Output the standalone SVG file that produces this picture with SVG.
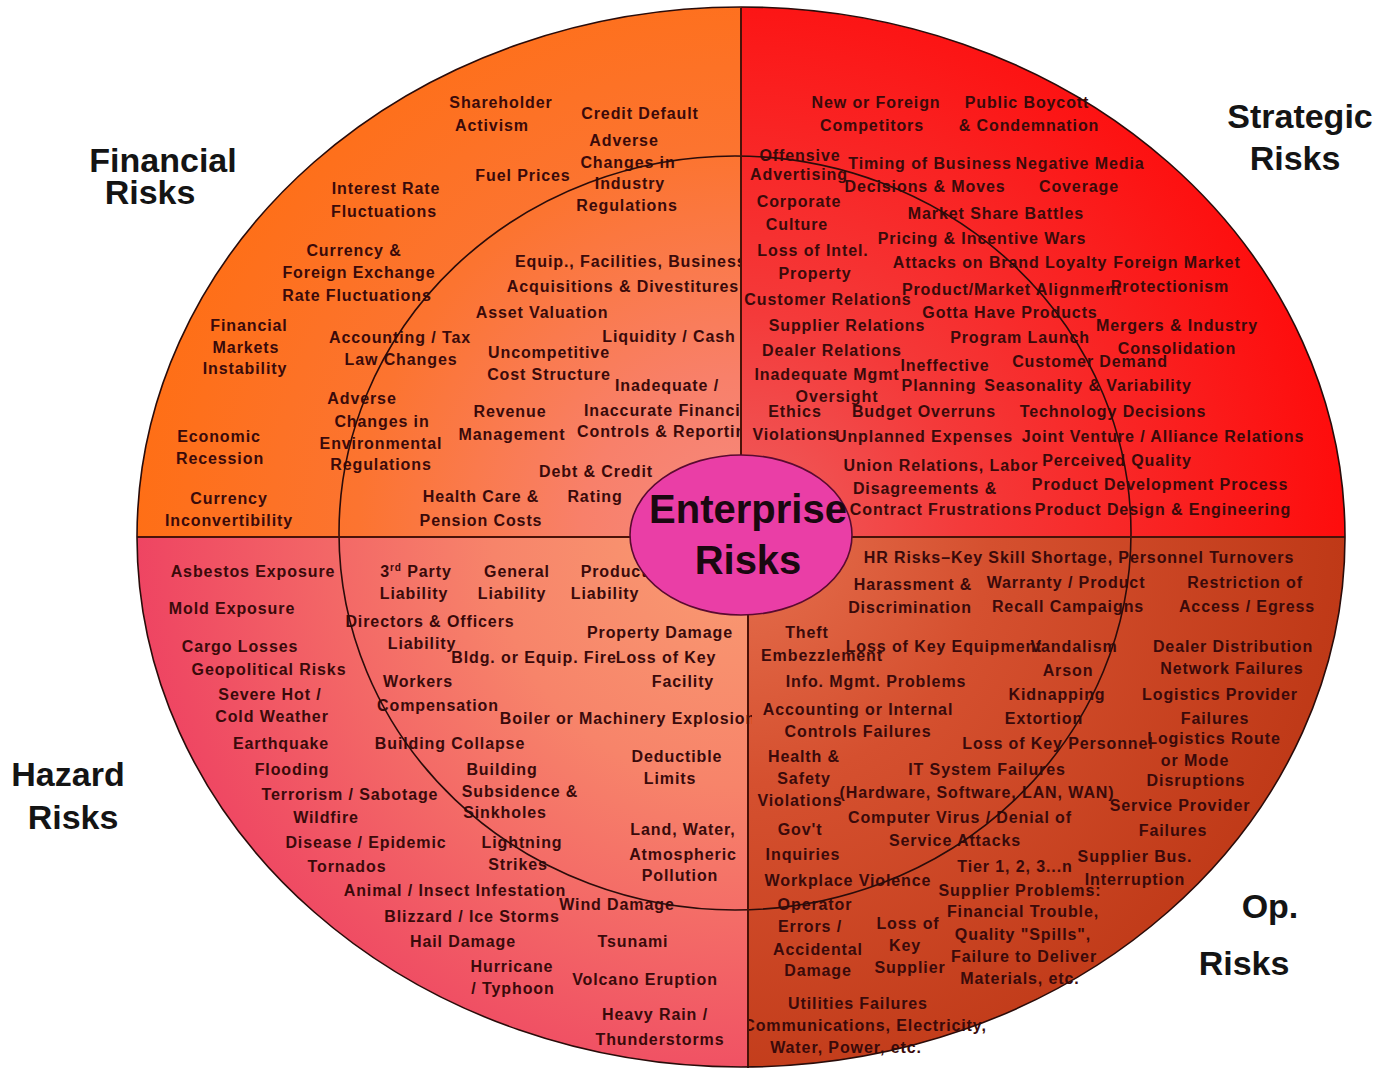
<svg xmlns="http://www.w3.org/2000/svg" width="1390" height="1068" viewBox="0 0 1390 1068">
<style>
.t{font-family:"Liberation Sans",Arial,sans-serif;font-size:16px;font-weight:bold;letter-spacing:0.9px;fill:#3a0a0a;text-anchor:middle}
.ts{text-anchor:start}
.cat{font-family:"Liberation Sans",Arial,sans-serif;font-size:34px;font-weight:bold;fill:#141414;text-anchor:middle}
.ring{fill:none;stroke:#2a0c0a;stroke-width:1.6}
.div{stroke:#4a1208;stroke-width:2}
</style>
<defs>
<clipPath id="cOuter"><ellipse cx="741" cy="537" rx="604" ry="530"/></clipPath>
<clipPath id="cTL"><rect x="0" y="0" width="741" height="537"/></clipPath>
<clipPath id="cTR"><rect x="741" y="0" width="649" height="537"/></clipPath>
<clipPath id="cBL"><rect x="0" y="537" width="752" height="531"/></clipPath>
<clipPath id="cBR"><rect x="747" y="537" width="643" height="531"/></clipPath>
<radialGradient id="gTL" gradientUnits="userSpaceOnUse" cx="741" cy="537" r="640">
<stop offset="0" stop-color="#F58A80"/><stop offset="0.25" stop-color="#F8806A"/><stop offset="0.6" stop-color="#FC7430"/><stop offset="1" stop-color="#FF6E12"/>
</radialGradient>
<radialGradient id="gTR" gradientUnits="userSpaceOnUse" cx="741" cy="537" r="640">
<stop offset="0" stop-color="#EE6060"/><stop offset="0.35" stop-color="#F43A3A"/><stop offset="1" stop-color="#FF0808"/>
</radialGradient>
<radialGradient id="gBL" gradientUnits="userSpaceOnUse" cx="741" cy="537" r="620">
<stop offset="0" stop-color="#F99C72"/><stop offset="0.4" stop-color="#F7846A"/><stop offset="1" stop-color="#EE4262"/>
</radialGradient>
<radialGradient id="gBR" gradientUnits="userSpaceOnUse" cx="741" cy="537" r="620">
<stop offset="0" stop-color="#E6704F"/><stop offset="0.4" stop-color="#D5502F"/><stop offset="1" stop-color="#BE3816"/>
</radialGradient>
</defs>
<rect width="1390" height="1068" fill="#ffffff"/>

<g id="quadrants" clip-path="url(#cOuter)">
<rect x="0" y="0" width="741" height="537" fill="url(#gTL)"/>
<rect x="741" y="0" width="649" height="537" fill="url(#gTR)"/>
<rect x="0" y="537" width="749" height="531" fill="url(#gBL)"/>
<rect x="749" y="537" width="641" height="531" fill="url(#gBR)"/>
</g>

<g id="financial-items" clip-path="url(#cTL)">
<text class="t"><tspan x="501" y="108">Shareholder</tspan><tspan x="492" y="131">Activism</tspan></text>
<text class="t" x="640" y="119">Credit Default</text>
<text class="t"><tspan x="624" y="146">Adverse</tspan><tspan x="628" y="168">Changes in</tspan><tspan x="630" y="189">Industry</tspan><tspan x="627" y="211">Regulations</tspan></text>
<text class="t" x="523" y="181">Fuel Prices</text>
<text class="t"><tspan x="386" y="194">Interest Rate</tspan><tspan x="384" y="217">Fluctuations</tspan></text>
<text class="t"><tspan x="354" y="256">Currency &amp;</tspan><tspan x="359" y="278">Foreign Exchange</tspan><tspan x="357" y="301">Rate Fluctuations</tspan></text>
<text class="t"><tspan x="249" y="331">Financial</tspan><tspan x="246" y="353">Markets</tspan><tspan x="245" y="374">Instability</tspan></text>
<text class="t"><tspan x="400" y="343">Accounting / Tax</tspan><tspan x="401" y="365">Law Changes</tspan></text>
<text class="t"><tspan x="362" y="404">Adverse</tspan><tspan x="382" y="427">Changes in</tspan><tspan x="381" y="449">Environmental</tspan><tspan x="381" y="470">Regulations</tspan></text>
<text class="t"><tspan x="219" y="442">Economic</tspan><tspan x="220" y="464">Recession</tspan></text>
<text class="t"><tspan x="229" y="504">Currency</tspan><tspan x="229" y="526">Inconvertibility</tspan></text>
<text class="t ts" x="515" y="267">Equip., Facilities, Business</text>
<text class="t" x="623" y="292">Acquisitions &amp; Divestitures</text>
<text class="t" x="542" y="318">Asset Valuation</text>
<text class="t" x="669" y="342">Liquidity / Cash</text>
<text class="t"><tspan x="549" y="358">Uncompetitive</tspan><tspan x="549" y="380">Cost Structure</tspan></text>
<text class="t" x="667" y="391">Inadequate /</text>
<text class="t ts"><tspan x="584" y="416">Inaccurate Financial</tspan><tspan x="577" y="437">Controls &amp; Reporting</tspan></text>
<text class="t"><tspan x="510" y="417">Revenue</tspan><tspan x="512" y="440">Management</tspan></text>
<text class="t"><tspan x="596" y="477">Debt &amp; Credit</tspan><tspan x="595" y="502">Rating</tspan></text>
<text class="t"><tspan x="481" y="502">Health Care &amp;</tspan><tspan x="481" y="526">Pension Costs</tspan></text>
</g>

<g id="strategic-items" clip-path="url(#cTR)">
<text class="t"><tspan x="876" y="108">New or Foreign</tspan><tspan x="872" y="131">Competitors</tspan></text>
<text class="t"><tspan x="1027" y="108">Public Boycott</tspan><tspan x="1029" y="131">&amp; Condemnation</tspan></text>
<text class="t"><tspan x="800" y="161">Offensive</tspan><tspan x="799" y="180">Advertising</tspan></text>
<text class="t"><tspan x="930" y="169">Timing of Business</tspan><tspan x="925" y="192">Decisions &amp; Moves</tspan></text>
<text class="t"><tspan x="1080" y="169">Negative Media</tspan><tspan x="1079" y="192">Coverage</tspan></text>
<text class="t"><tspan x="799" y="207">Corporate</tspan><tspan x="797" y="230">Culture</tspan></text>
<text class="t" x="996" y="219">Market Share Battles</text>
<text class="t" x="982" y="244">Pricing &amp; Incentive Wars</text>
<text class="t"><tspan x="813" y="256">Loss of Intel.</tspan><tspan x="815" y="279">Property</tspan></text>
<text class="t" x="1000" y="268">Attacks on Brand Loyalty</text>
<text class="t"><tspan x="1177" y="268">Foreign Market</tspan><tspan x="1170" y="292">Protectionism</tspan></text>
<text class="t" x="828" y="305">Customer Relations</text>
<text class="t" x="1012" y="295">Product/Market Alignment</text>
<text class="t" x="1010" y="318">Gotta Have Products</text>
<text class="t"><tspan x="1177" y="331">Mergers &amp; Industry</tspan><tspan x="1177" y="354">Consolidation</tspan></text>
<text class="t" x="847" y="331">Supplier Relations</text>
<text class="t" x="1020" y="343">Program Launch</text>
<text class="t" x="832" y="356">Dealer Relations</text>
<text class="t"><tspan x="945" y="371">Ineffective</tspan><tspan x="939" y="391">Planning</tspan></text>
<text class="t"><tspan x="1090" y="367">Customer Demand</tspan><tspan x="1088" y="391">Seasonality &amp; Variability</tspan></text>
<text class="t"><tspan x="827" y="380">Inadequate Mgmt</tspan><tspan x="837" y="402">Oversight</tspan></text>
<text class="t"><tspan x="795" y="417">Ethics</tspan><tspan x="795" y="440">Violations</tspan></text>
<text class="t"><tspan x="924" y="417">Budget Overruns</tspan><tspan x="924" y="442">Unplanned Expenses</tspan></text>
<text class="t" x="1113" y="417">Technology Decisions</text>
<text class="t" x="1163" y="442">Joint Venture / Alliance Relations</text>
<text class="t"><tspan x="941" y="471">Union Relations, Labor</tspan><tspan x="925" y="494">Disagreements &amp;</tspan><tspan x="941" y="515">Contract Frustrations</tspan></text>
<text class="t" x="1117" y="466">Perceived Quality</text>
<text class="t" x="1160" y="490">Product Development Process</text>
<text class="t" x="1163" y="515">Product Design &amp; Engineering</text>
</g>

<g id="hazard-items" clip-path="url(#cBL)">
<text class="t" x="253" y="577">Asbestos Exposure</text>
<text class="t" x="232" y="614">Mold Exposure</text>
<text class="t" x="240" y="652">Cargo Losses</text>
<text class="t" x="269" y="675">Geopolitical Risks</text>
<text class="t"><tspan x="270" y="700">Severe Hot /</tspan><tspan x="272" y="722">Cold Weather</tspan></text>
<text class="t" x="281" y="749">Earthquake</text>
<text class="t" x="292" y="775">Flooding</text>
<text class="t" x="350" y="800">Terrorism / Sabotage</text>
<text class="t" x="326" y="823">Wildfire</text>
<text class="t" x="366" y="848">Disease / Epidemic</text>
<text class="t" x="347" y="872">Tornados</text>
<text class="t" x="455" y="896">Animal / Insect Infestation</text>
<text class="t" x="472" y="922">Blizzard / Ice Storms</text>
<text class="t" x="463" y="947">Hail Damage</text>
<text class="t"><tspan x="512" y="972">Hurricane</tspan><tspan x="513" y="994">/ Typhoon</tspan></text>
<text class="t" x="416" y="577">3<tspan font-size="10" dy="-6">rd</tspan><tspan dy="6"> Party</tspan></text>
<text class="t" x="414" y="599">Liability</text>
<text class="t"><tspan x="517" y="577">General</tspan><tspan x="512" y="599">Liability</tspan></text>
<text class="t"><tspan x="614" y="577">Product</tspan><tspan x="605" y="599">Liability</tspan></text>
<text class="t"><tspan x="430" y="627">Directors &amp; Officers</tspan><tspan x="422" y="649">Liability</tspan></text>
<text class="t" x="660" y="638">Property Damage</text>
<text class="t" x="534" y="663">Bldg. or Equip. Fire</text>
<text class="t"><tspan x="666" y="663">Loss of Key</tspan><tspan x="683" y="687">Facility</tspan></text>
<text class="t"><tspan x="418" y="687">Workers</tspan><tspan x="438" y="711">Compensation</tspan></text>
<text class="t" x="628" y="724">Boiler or Machinery Explosion</text>
<text class="t" x="450" y="749">Building Collapse</text>
<text class="t"><tspan x="502" y="775">Building</tspan><tspan x="520" y="797">Subsidence &amp;</tspan><tspan x="505" y="818">Sinkholes</tspan></text>
<text class="t"><tspan x="677" y="762">Deductible</tspan><tspan x="670" y="784">Limits</tspan></text>
<text class="t"><tspan x="522" y="848">Lightning</tspan><tspan x="518" y="870">Strikes</tspan></text>
<text class="t"><tspan x="683" y="835">Land, Water,</tspan><tspan x="683" y="860">Atmospheric</tspan><tspan x="680" y="881">Pollution</tspan></text>
<text class="t" x="617" y="910">Wind Damage</text>
<text class="t" x="633" y="947">Tsunami</text>
<text class="t" x="645" y="985">Volcano Eruption</text>
<text class="t"><tspan x="655" y="1020">Heavy Rain /</tspan><tspan x="660" y="1045">Thunderstorms</tspan></text>
</g>

<g id="operational-items" clip-path="url(#cBR)">
<text class="t" x="1079" y="563">HR Risks–Key Skill Shortage, Personnel Turnovers</text>
<text class="t"><tspan x="913" y="590">Harassment &amp;</tspan><tspan x="910" y="613">Discrimination</tspan></text>
<text class="t"><tspan x="1066" y="588">Warranty / Product</tspan><tspan x="1068" y="612">Recall Campaigns</tspan></text>
<text class="t"><tspan x="1245" y="588">Restriction of</tspan><tspan x="1247" y="612">Access / Egress</tspan></text>
<text class="t"><tspan x="807" y="638">Theft</tspan><tspan x="822" y="661">Embezzlement</tspan></text>
<text class="t" x="944" y="652" font-size="15" letter-spacing="0.2">Loss of Key Equipment</text>
<text class="t" x="1074" y="652">Vandalism</text>
<text class="t"><tspan x="1233" y="652">Dealer Distribution</tspan><tspan x="1232" y="674">Network Failures</tspan></text>
<text class="t" x="1068" y="676">Arson</text>
<text class="t" x="876" y="687">Info. Mgmt. Problems</text>
<text class="t"><tspan x="1057" y="700">Kidnapping</tspan><tspan x="1044" y="724">Extortion</tspan></text>
<text class="t"><tspan x="1220" y="700">Logistics Provider</tspan><tspan x="1215" y="724">Failures</tspan></text>
<text class="t"><tspan x="858" y="715">Accounting or Internal</tspan><tspan x="858" y="737">Controls Failures</tspan></text>
<text class="t" x="1058" y="749">Loss of Key Personnel</text>
<text class="t"><tspan x="1214" y="744">Logistics Route</tspan><tspan x="1195" y="766">or Mode</tspan><tspan x="1196" y="786">Disruptions</tspan></text>
<text class="t"><tspan x="804" y="762">Health &amp;</tspan><tspan x="804" y="784">Safety</tspan><tspan x="800" y="806">Violations</tspan></text>
<text class="t"><tspan x="987" y="775">IT System Failures</tspan><tspan x="977" y="798">(Hardware, Software, LAN, WAN)</tspan></text>
<text class="t"><tspan x="1180" y="811">Service Provider</tspan><tspan x="1173" y="836">Failures</tspan></text>
<text class="t"><tspan x="960" y="823">Computer Virus / Denial of</tspan><tspan x="955" y="846">Service Attacks</tspan></text>
<text class="t"><tspan x="800" y="835">Gov't</tspan><tspan x="803" y="860">Inquiries</tspan></text>
<text class="t"><tspan x="1015" y="872">Tier 1, 2, 3...n</tspan><tspan x="1020" y="896">Supplier Problems:</tspan><tspan x="1023" y="917">Financial Trouble,</tspan><tspan x="1023" y="940">Quality "Spills",</tspan><tspan x="1024" y="962">Failure to Deliver</tspan><tspan x="1020" y="984">Materials, etc.</tspan></text>
<text class="t"><tspan x="1135" y="862">Supplier Bus.</tspan><tspan x="1135" y="885">Interruption</tspan></text>
<text class="t" x="848" y="886">Workplace Violence</text>
<text class="t"><tspan x="815" y="910">Operator</tspan><tspan x="810" y="932">Errors /</tspan><tspan x="818" y="955">Accidental</tspan><tspan x="818" y="976">Damage</tspan></text>
<text class="t"><tspan x="908" y="929">Loss of</tspan><tspan x="905" y="951">Key</tspan><tspan x="910" y="973">Supplier</tspan></text>
<text class="t"><tspan x="858" y="1009">Utilities Failures</tspan><tspan x="865" y="1031">Communications, Electricity,</tspan><tspan x="846" y="1053">Water, Power, etc.</tspan></text>
</g>

<g id="rings">
<ellipse class="ring" cx="735" cy="533" rx="396" ry="377"/>
<line class="div" x1="137" y1="537" x2="1345" y2="537"/>
<line class="div" x1="741" y1="8" x2="741" y2="537"/>
<line class="div" x1="748" y1="537" x2="748" y2="1068"/>
<ellipse class="ring" cx="741" cy="537" rx="604" ry="530"/>
</g>

<g id="center">
<ellipse cx="741" cy="535" rx="111" ry="80" fill="#EA3EA6" stroke="#5a0a30" stroke-width="1.6"/>
<text x="748" y="523" font-family="Liberation Sans,Arial,sans-serif" font-size="40" font-weight="bold" fill="#1a0810" text-anchor="middle">Enterprise</text>
<text x="748" y="574" font-family="Liberation Sans,Arial,sans-serif" font-size="40" font-weight="bold" fill="#1a0810" text-anchor="middle">Risks</text>
</g>

<g id="label-financial"><text class="cat"><tspan x="163" y="172">Financial</tspan><tspan x="150" y="204">Risks</tspan></text></g>
<g id="label-strategic"><text class="cat"><tspan x="1300" y="128">Strategic</tspan><tspan x="1295" y="170">Risks</tspan></text></g>
<g id="label-hazard"><text class="cat"><tspan x="68" y="786">Hazard</tspan><tspan x="73" y="829">Risks</tspan></text></g>
<g id="label-operational"><text class="cat"><tspan x="1270" y="918">Op.</tspan><tspan x="1244" y="975">Risks</tspan></text></g>
</svg>
